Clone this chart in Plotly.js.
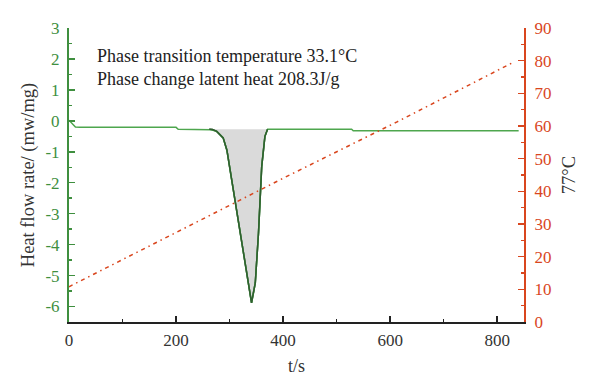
<!DOCTYPE html>
<html>
<head>
<meta charset="utf-8">
<script src="https://cdn.plot.ly/plotly-3.0.1.min.js"></script>
<style>html,body{margin:0;padding:0;background:#fff;}#chart{width:600px;height:391px;}</style>
</head>
<body>
<div id="chart"></div>
<script>
// Heat flow baseline (outside the peak), t in s, value in mW/mg
const flowTime = [0, 4, 8, 12, 20, 200, 204, 257, 265, 276, 288, 295, 310, 326, 335, 341, 348, 354, 360, 366, 371, 528, 531, 840];
const flowValue = [0.02, -0.05, -0.14, -0.2, -0.21, -0.21, -0.27, -0.27, -0.29, -0.34, -0.55, -0.95, -2.55, -4.16, -5.24, -5.88, -5.24, -3.63, -1.48, -0.5, -0.27, -0.27, -0.32, -0.32];
// Integrated peak region (closed against baseline)
const peakTime = [262, 268, 276, 288, 295, 310, 326, 335, 341, 348, 354, 360, 366, 371];
const peakValue = [-0.27, -0.28, -0.34, -0.55, -0.95, -2.55, -4.16, -5.24, -5.88, -5.24, -3.63, -1.48, -0.5, -0.27];
// Temperature (°C)
const tempTime = [0, 207, 400, 612, 830];
const tempValue = [10.8, 28.0, 44.0, 61.2, 79.5];
// Tick labels
const leftTickVals = [-6, -5, -4, -3, -2, -1, 0, 1, 2, 3];
const leftTickText = ["-6", "-5", "-4", "-3", "-2", "-1", "0", "1", "2", "3"];
const annotationLines = ["Phase transition temperature 33.1°C", "Phase change latent heat 208.3J/g"];

const serif = "Liberation Serif, Times New Roman, serif";
const green = "#3f8f3f";
const orange = "#d9461e";

const traces = [
  {x: peakTime, y: peakValue, type: "scatter", mode: "lines", fill: "toself",
   fillcolor: "#dadada", line: {color: "#2f5f2f", width: 1.5}, hoverinfo: "skip", xaxis: "x", yaxis: "y"},
  {x: flowTime, y: flowValue, type: "scatter", mode: "lines",
   line: {color: "#4ea64e", width: 1.5}, xaxis: "x", yaxis: "y"},
  {x: peakTime, y: peakValue, type: "scatter", mode: "lines",
   line: {color: "#2f5f2f", width: 1.5}, xaxis: "x", yaxis: "y"},
  {x: tempTime, y: tempValue, type: "scatter", mode: "lines",
   line: {color: orange, width: 1.5, dash: "4px,4px,1.5px,4px"}, xaxis: "x", yaxis: "y2"}
];

const layout = {
  width: 600, height: 391,
  margin: {l: 69, r: 76, t: 28, b: 69},
  paper_bgcolor: "#fff", plot_bgcolor: "#fff",
  showlegend: false,
  font: {family: serif, size: 17, color: "#333"},
  xaxis: {
    range: [0, 850], dtick: 200, tick0: 0,
    showgrid: false, zeroline: false,
    showline: true, linecolor: "#222", linewidth: 2,
    ticks: "inside", ticklen: 6, tickwidth: 1.5, tickcolor: "#222",
    minor: {dtick: 100, ticks: "inside", ticklen: 3, tickcolor: "#222", tickwidth: 1.5, showgrid: false},
    tickfont: {family: serif, size: 17, color: "#333"},
    ticklabelstandoff: 2,
    title: {text: "t/s", font: {family: serif, size: 18, color: "#333"}, standoff: 10}
  },
  yaxis: {
    range: [-6.5, 3],
    tickmode: "array", tickvals: leftTickVals, ticktext: leftTickText,
    showgrid: false, zeroline: false,
    showline: true, linecolor: green, linewidth: 2,
    ticks: "inside", ticklen: 6, tickwidth: 1.5, tickcolor: green,
    minor: {dtick: 0.5, ticks: "inside", ticklen: 3, tickcolor: green, tickwidth: 1.5, showgrid: false},
    tickfont: {family: serif, size: 17, color: green},
    ticklabelstandoff: 4,
    title: {text: "Heat flow rate/ (mw/mg)", font: {family: serif, size: 18.5, color: "#333"}, standoff: 6}
  },
  yaxis2: {
    range: [0, 90], dtick: 10, tick0: 0,
    overlaying: "y", side: "right", anchor: "x",
    showgrid: false, zeroline: false,
    showline: true, linecolor: orange, linewidth: 2,
    ticks: "inside", ticklen: 6, tickwidth: 1.5, tickcolor: orange,
    minor: {dtick: 5, ticks: "inside", ticklen: 3, tickcolor: orange, tickwidth: 1.5, showgrid: false},
    tickfont: {family: serif, size: 17, color: orange},
    ticklabelstandoff: 5,
    title: {text: "77°C", font: {family: serif, size: 18.5, color: "#333"}, standoff: 12}
  },
  annotations: [
    {text: annotationLines[0], xref: "paper", yref: "paper", x: 0.058, y: 0.905, xanchor: "left", yanchor: "middle", showarrow: false, font: {family: serif, size: 18, color: "#222"}},
    {text: annotationLines[1], xref: "paper", yref: "paper", x: 0.058, y: 0.825, xanchor: "left", yanchor: "middle", showarrow: false, font: {family: serif, size: 18, color: "#222"}}
  ]
};

Plotly.newPlot("chart", traces, layout, {displayModeBar: false, staticPlot: true});
</script>
</body>
</html>
